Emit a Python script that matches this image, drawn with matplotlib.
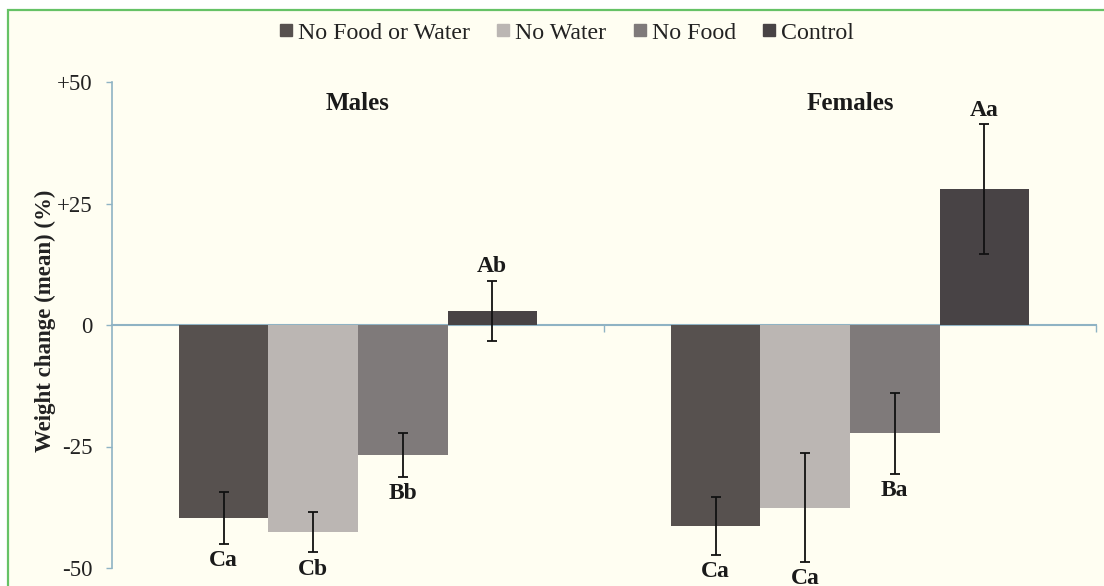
import matplotlib
matplotlib.use("Agg")
import matplotlib.pyplot as plt
from matplotlib.lines import Line2D
from matplotlib.patches import Rectangle
import numpy as np

groups = ["Males", "Females"]
series = ["No Food or Water", "No Water", "No Food", "Control"]
males_mean = [-39.7, -42.6, -26.8, 2.9]
males_err = [5.3, 4.2, 4.5, 6.2]
females_mean = [-41.3, -37.6, -22.3, 28.0]
females_err = [6.0, 11.2, 8.4, 13.3]
males_letters = ["Ca", "Cb", "Bb", "Ab"]
females_letters = ["Ca", "Ca", "Ba", "Aa"]
yticks = [-50, -25, 0, 25, 50]
yticklabels = ["-50", "-25", "0", "+25", "+50"]

colors = ["#57514F", "#BBB6B3", "#7F7A7A", "#484345"]
cream = "#FFFEF2"
green = "#66C266"
axcol = "#8FB3C4"
serif = ["Liberation Serif", "DejaVu Serif"]
plt.rcParams["font.family"] = serif

fig = plt.figure(figsize=(11.04, 5.86), dpi=100, facecolor="white")
W, H = 1104, 586
bg = Rectangle((8 / W, -0.1), 1.2, 1 - 10 / H + 0.1, transform=fig.transFigure,
               facecolor=cream, edgecolor=green, linewidth=1.6, zorder=-10)
fig.patches.append(bg)

ax = fig.add_axes([112 / W, 1 - 568 / H, (1096 - 112) / W, (568 - 82) / H])
ax.set_facecolor("none")
ax.set_zorder(5)

means = np.array([males_mean, females_mean])
errs = np.array([males_err, females_err])
letters = [males_letters, females_letters]
x = np.arange(len(groups))
width = 0.182
for i, s in enumerate(series):
    pos = x + (i - 1.5) * width
    ax.bar(pos, means[:, i], width, color=colors[i], zorder=2)
    ax.errorbar(pos, means[:, i], yerr=errs[:, i], fmt="none", ecolor="#111111",
                elinewidth=1.3, capsize=3.5, capthick=1.3, zorder=3)
    for g in range(len(groups)):
        m, e = means[g, i], errs[g, i]
        if m >= 0:
            yv, off = m + e, 10
        else:
            yv, off = m - e, -12
        ax.annotate(letters[g][i], (pos[g], yv), xytext=(0, off), textcoords="offset points",
                    ha="center", va="center", fontsize=17, fontweight="bold",
                    color="#1a1a1a", annotation_clip=False)

for g, name in enumerate(groups):
    ax.text(x[g], 45.5, name, ha="center", va="center", fontsize=18,
            fontweight="bold", color="#1a1a1a")

ax.set_xlim(-0.5, 1.5)
ax.set_ylim(-50, 50)
ax.set_yticks(yticks)
ax.set_yticklabels(yticklabels)
ax.tick_params(axis="y", direction="out", length=4, width=1, color=axcol, pad=10,
               labelsize=16.5, labelcolor="#222222")
ax.set_xticks([0.5, 1.5])
ax.set_xticklabels([])
ax.tick_params(axis="x", direction="out", length=5, width=1, color=axcol)
for sp in ["top", "right"]:
    ax.spines[sp].set_visible(False)
ax.spines["left"].set_color(axcol)
ax.spines["left"].set_linewidth(1.2)
ax.spines["bottom"].set_position(("data", 0))
ax.spines["bottom"].set_color(axcol)
ax.spines["bottom"].set_linewidth(1.5)
ax.spines["bottom"].set_zorder(1)

ax.set_ylabel("Weight change (mean) (%)", fontsize=16.5, fontweight="bold",
              color="#222222", va="center")
ax.yaxis.set_label_coords((45 - 112) / 984, 0.508)

handles = [Line2D([], [], marker="s", linestyle="none", markersize=8, color=c) for c in colors]
leg = fig.legend(handles, series, loc="center", bbox_to_anchor=(567 / W, 1 - 33 / H),
                 ncol=4, frameon=False, fontsize=17.2, handlelength=0.5,
                 handletextpad=0.25, columnspacing=1.15, borderpad=0)
for t in leg.get_texts():
    t.set_color("#222222")

fig.savefig("out.png", dpi=100, facecolor="white")
